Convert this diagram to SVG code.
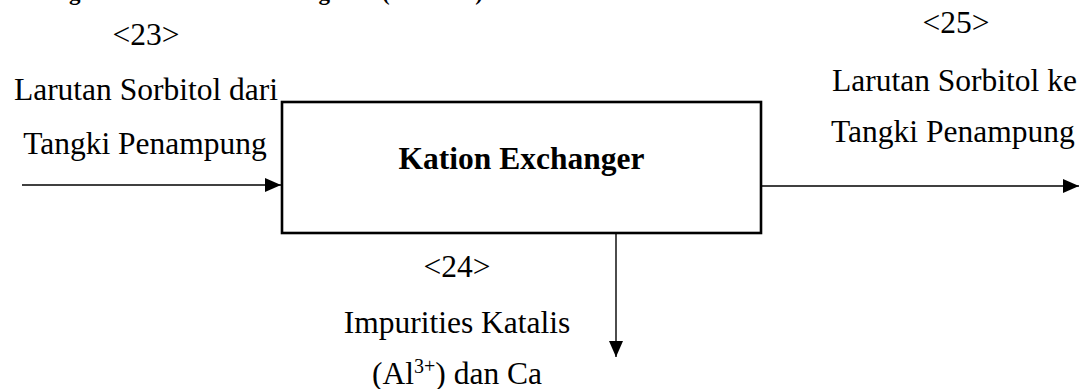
<svg xmlns="http://www.w3.org/2000/svg" width="1083" height="389" viewBox="0 0 1083 389">
  <style>
    text { font-family: 'Liberation Serif', Tinos, 'Times New Roman', Times, serif; fill: #000; }
    .t { font-size: 31.5px; }
    .b { font-size: 31.5px; font-weight: bold; }
    .h { font-size: 23px; font-weight: bold; }
    .ln { stroke: #000; stroke-width: 1.4; fill: none; }
    .box { stroke: #000; stroke-width: 2.6; fill: #fff; }
  </style>
  <defs>
    <marker id="ah" markerUnits="userSpaceOnUse" markerWidth="16" markerHeight="14" refX="16" refY="7" orient="auto">
      <path d="M0,0 L16,7 L0,14 Z" fill="#000"/>
    </marker>
  </defs>
  <rect width="1083" height="389" fill="#fff"/>

  <g id="title">
    <text class="h" x="34.5" y="0">Diagram Alir Kation Exchanger</text>
    <text class="h" x="382" y="0" textLength="101" lengthAdjust="spacing">(KE-101)</text>
  </g>

  <g id="connectors">
    <line class="ln" x1="22" y1="185" x2="281" y2="185" marker-end="url(#ah)"/>
    <line class="ln" x1="761" y1="186" x2="1079" y2="186" marker-end="url(#ah)"/>
    <line class="ln" x1="616" y1="233" x2="616" y2="357" marker-end="url(#ah)"/>
  </g>

  <g id="node-kation-exchanger">
    <rect class="box" x="282" y="102" width="479" height="131"/>
    <text class="b" x="521.5" y="169" text-anchor="middle">Kation Exchanger</text>
  </g>

  <g id="label-23">
    <text class="t" x="146" y="45" text-anchor="middle">&lt;23&gt;</text>
    <text class="t" x="146" y="100" text-anchor="middle">Larutan Sorbitol dari</text>
    <text class="t" x="145" y="154" text-anchor="middle">Tangki Penampung</text>
  </g>

  <g id="label-25">
    <text class="t" x="956" y="33" text-anchor="middle">&lt;25&gt;</text>
    <text class="t" x="832" y="91">Larutan Sorbitol ke</text>
    <text class="t" x="831" y="142">Tangki Penampung</text>
  </g>

  <g id="label-24">
    <text class="t" x="457" y="277" text-anchor="middle">&lt;24&gt;</text>
    <text class="t" x="457" y="333" text-anchor="middle">Impurities Katalis</text>
    <text class="t" x="457" y="384" text-anchor="middle">(Al<tspan font-size="20" dy="-11">3+</tspan><tspan dy="11">) dan Ca</tspan></text>
  </g>
</svg>
